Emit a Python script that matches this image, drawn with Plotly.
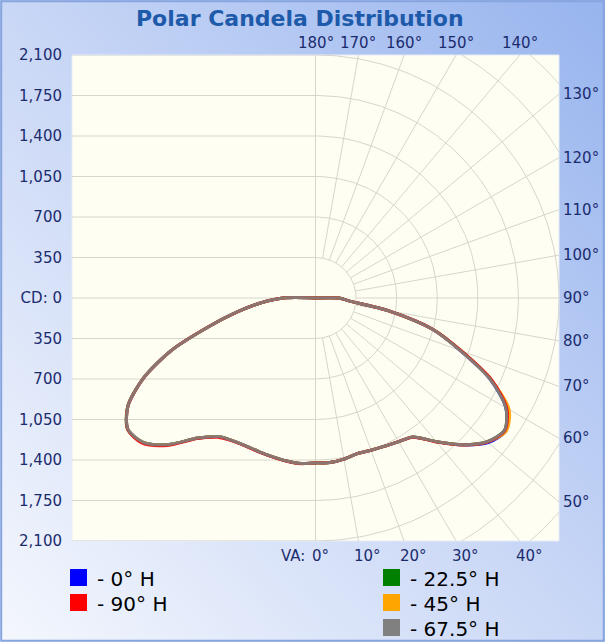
import base64
import numpy as np
import plotly.graph_objects as go

# ---------------- data ----------------
VA = [0, 5, 10, 15, 20, 25, 30, 35, 40, 45, 50, 55, 60, 65, 70, 75, 80, 85, 90, 95]

# right half of each plane (H) and left half (H + 180)
cd_0_right = [1425, 1428, 1414, 1392, 1400, 1413, 1433, 1466, 1621, 1795, 1945, 2002, 1895, 1662, 1329, 1044, 642, 290, 200, 0]
cd_0_left = [1425, 1435, 1430, 1421, 1415, 1412, 1425, 1462, 1580, 1790, 1940, 1975, 1868, 1635, 1320, 950, 680, 470, 280, 0]
cd_22_right = [1425, 1428, 1414, 1392, 1400, 1413, 1433, 1466, 1621, 1793, 1933, 1990, 1898, 1670, 1338, 1050, 642, 290, 200, 0]
cd_22_left = [1425, 1435, 1430, 1421, 1415, 1412, 1425, 1462, 1580, 1790, 1940, 1978, 1870, 1638, 1322, 950, 680, 470, 280, 0]
cd_45_right = [1425, 1428, 1414, 1392, 1400, 1413, 1433, 1466, 1621, 1793, 1935, 2008, 1928, 1668, 1332, 1044, 642, 290, 200, 0]
cd_45_left = [1425, 1435, 1430, 1421, 1415, 1412, 1425, 1462, 1580, 1790, 1940, 1975, 1868, 1635, 1320, 950, 680, 470, 280, 0]
cd_67_right = [1425, 1428, 1414, 1392, 1400, 1413, 1433, 1466, 1621, 1793, 1933, 1990, 1895, 1662, 1329, 1044, 642, 290, 200, 0]
cd_67_left = [1425, 1435, 1430, 1421, 1415, 1412, 1425, 1462, 1580, 1790, 1940, 1975, 1868, 1635, 1320, 950, 680, 470, 280, 0]
cd_90_right = [1425, 1428, 1414, 1392, 1400, 1413, 1433, 1468, 1625, 1796, 1936, 1993, 1905, 1678, 1342, 1050, 645, 290, 200, 0]
cd_90_left = [1425, 1437, 1432, 1423, 1418, 1415, 1428, 1470, 1585, 1802, 1952, 1978, 1868, 1635, 1322, 952, 680, 470, 280, 0]

SERIES_NAMES = ["0° H", "22.5° H", "45° H", "67.5° H", "90° H"]
SERIES_COLORS = ["#0000FF", "#008000", "#FFA500", "#808080", "#FF0000"]
SERIES_RIGHT = [cd_0_right, cd_22_right, cd_45_right, cd_67_right, cd_90_right]
SERIES_LEFT = [cd_0_left, cd_22_left, cd_45_left, cd_67_left, cd_90_left]
DRAW_ORDER = [0, 1, 2, 4, 3]  # gray drawn last (on top)

CD_TICKS = [-2100, -1750, -1400, -1050, -700, -350, 0, 350, 700, 1050, 1400, 1750, 2100]
CD_TEXT = ["2,100", "1,750", "1,400", "1,050", "700", "350", "CD: 0",
           "350", "700", "1,050", "1,400", "1,750", "2,100"]
GRID_RADII = [350, 700, 1050, 1400, 1750, 2100, 2450, 2800]
RAY_ANGLES = list(range(0, 181, 10))
TOP_LABELS = [180, 170, 160, 150, 140]
RIGHT_LABELS = [130, 120, 110, 100, 90, 80, 70, 60, 50]
BOTTOM_LABELS = [0, 10, 20, 30, 40]

LEGEND_LEFT = [("0° H", "#0000FF"), ("90° H", "#FF0000")]
LEGEND_RIGHT = [("22.5° H", "#008000"), ("45° H", "#FFA500"), ("67.5° H", "#808080")]

# ---------------- layout constants ----------------
W, H = 605, 642
PX0, PX1, PY0, PY1 = 72, 559, 55, 541
RMAX = 2100
FONT = "DejaVu Sans"
TICK_COLOR = "#1B2C6E"
GRID_COLOR = "#D6D6CC"

fig = go.Figure()

# grid: left-half horizontal lines + centre vertical line
gx, gy = [], []
for v in CD_TICKS:
    gx += [-RMAX, 0, None]
    gy += [v, v, None]
gx += [0, 0, None]
gy += [-RMAX, RMAX, None]
# right-half arcs
t = np.radians(np.linspace(0, 180, 181))
for r in GRID_RADII:
    gx += list(r * np.sin(t)) + [None]
    gy += list(-r * np.cos(t)) + [None]
# rays
for a in RAY_ANGLES:
    ar = np.radians(a)
    gx += [350 * np.sin(ar), 3200 * np.sin(ar), None]
    gy += [-350 * np.cos(ar), -3200 * np.cos(ar), None]
fig.add_trace(go.Scatter(x=gx, y=gy, mode="lines", line=dict(color=GRID_COLOR, width=1),
                         hoverinfo="skip", showlegend=False))

# candela curves
th = np.radians(VA)
for i in DRAW_ORDER:
    ir = np.array(SERIES_RIGHT[i], dtype=float)
    il = np.array(SERIES_LEFT[i], dtype=float)
    x = np.concatenate([ir * np.sin(th), (-il * np.sin(th))[::-1]])
    y = np.concatenate([-ir * np.cos(th), (-il * np.cos(th))[::-1]])
    fig.add_trace(go.Scatter(x=x, y=y, mode="lines", name=SERIES_NAMES[i],
                             line=dict(color=SERIES_COLORS[i], width=3, shape="spline", smoothing=0.8),
                             opacity=0.9, showlegend=False))

# background gradient via svg image
svg = f'''<svg xmlns="http://www.w3.org/2000/svg" width="{W}" height="{H}" viewBox="0 0 {W} {H}" preserveAspectRatio="none">
<defs><linearGradient id="g" x1="0" y1="1" x2="1" y2="0">
<stop offset="0" stop-color="#F4F7FD"/><stop offset="0.5" stop-color="#C9D7F6"/><stop offset="1" stop-color="#97B4EE"/>
</linearGradient></defs>
<rect width="{W}" height="{H}" fill="url(#g)"/></svg>'''
src = "data:image/svg+xml;base64," + base64.b64encode(svg.encode()).decode()

def px(xp):
    return xp / W

def py(yp):
    return 1 - yp / H

annotations = []
# title
annotations.append(dict(text="<b>Polar Candela Distribution</b>", x=px(300), y=py(19), xref="paper", yref="paper",
                        showarrow=False, xanchor="center", yanchor="middle", borderpad=0,
                        font=dict(family=FONT, size=22, color="#1E5AAA")))
lab_font = dict(family=FONT, size=15, color=TICK_COLOR)
for a in TOP_LABELS:
    xv = RMAX * np.tan(np.radians(180 - a))
    annotations.append(dict(text=f"{a}°", x=xv, y=RMAX, xref="x", yref="y", showarrow=False, borderpad=0,
                            xanchor="center", yanchor="middle", yshift=12, font=lab_font))
for a in RIGHT_LABELS:
    yv = RMAX * np.tan(np.radians(a - 90))
    annotations.append(dict(text=f"{a}°", x=RMAX, y=yv, xref="x", yref="y", showarrow=False, borderpad=0,
                            xanchor="left", yanchor="middle", xshift=3, font=lab_font))
for a in BOTTOM_LABELS:
    xv = RMAX * np.tan(np.radians(a))
    annotations.append(dict(text=f"{a}°", x=xv, y=-RMAX, xref="x", yref="y", showarrow=False, borderpad=0,
                            xanchor="left", yanchor="middle", yshift=-15, xshift=-5, font=lab_font))
annotations.append(dict(text="VA:", x=0, y=-RMAX, xref="x", yref="y", showarrow=False, borderpad=0,
                        xanchor="right", yanchor="middle", yshift=-15, xshift=-10, font=lab_font))

shapes = []
# plot area background
shapes.append(dict(type="rect", xref="paper", yref="paper", x0=px(PX0), x1=px(PX1), y0=py(PY1), y1=py(PY0),
                   fillcolor="#FFFEF3", line=dict(color="#E6ECF6", width=1), layer="below"))
# legend
SQ = 17
for col, (items, lx) in enumerate([(LEGEND_LEFT, 70), (LEGEND_RIGHT, 383)]):
    for k, (name, c) in enumerate(items):
        ty = 569 + 25 * k
        shapes.append(dict(type="rect", xref="paper", yref="paper", x0=px(lx), x1=px(lx + SQ),
                           y0=py(ty + SQ), y1=py(ty), fillcolor=c, line=dict(width=0)))
        annotations.append(dict(text=f"- {name}", x=px(lx + SQ + 9), y=py(ty + SQ / 2 + 1),
                                xref="paper", yref="paper", showarrow=False, xanchor="left", yanchor="middle",
                                borderpad=0, font=dict(family=FONT, size=20, color="#000000")))
# outer frame
shapes.append(dict(type="rect", xref="paper", yref="paper", x0=0.002, x1=0.998, y0=0.002, y1=0.998,
                   line=dict(color="#86A4DE", width=2), fillcolor="rgba(0,0,0,0)"))

fig.update_layout(
    width=W, height=H,
    margin=dict(l=0, r=0, t=0, b=0, autoexpand=False),
    paper_bgcolor="#C9D7F6",
    plot_bgcolor="#FFFEF3",
    showlegend=False,
    images=[dict(source=src, xref="paper", yref="paper", x=0, y=1, sizex=1, sizey=1,
                 xanchor="left", yanchor="top", sizing="stretch", layer="below")],
    annotations=annotations,
    shapes=shapes,
    xaxis=dict(domain=[PX0 / W, PX1 / W], range=[-RMAX, RMAX], showgrid=False, zeroline=False,
               showticklabels=False, ticks="", showline=False, fixedrange=True),
    yaxis=dict(domain=[1 - PY1 / H, 1 - PY0 / H], range=[-RMAX, RMAX], showgrid=False, zeroline=False,
               tickmode="array", tickvals=CD_TICKS, ticktext=CD_TEXT, ticks="outside", ticklen=6,
               tickcolor="rgba(0,0,0,0)", tickfont=lab_font, showline=False, fixedrange=True),
)

fig.write_html(
    "out.html",
    config={"displayModeBar": False},
    post_script="document.body.style.margin='0';document.body.style.overflow='hidden';",
)
